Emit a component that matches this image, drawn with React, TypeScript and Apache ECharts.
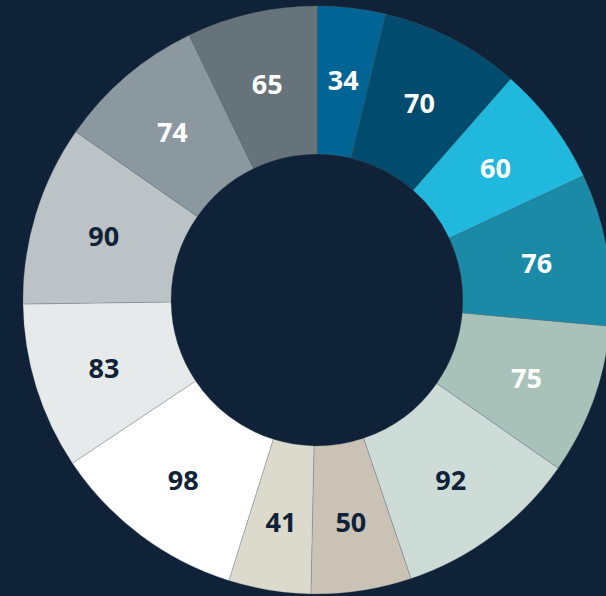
import React, { useEffect, useRef } from "react";
import * as echarts from "echarts";

const values = [34, 70, 60, 76, 75, 92, 50, 41, 98, 83, 90, 74, 65];
const colors = [
  "#006494", "#004b6e", "#21b8de", "#1a8aa6", "#a8c2b9", "#cddcd7", "#c9c2b5",
  "#dcd9cd", "#ffffff", "#e6eaeb", "#bcc3c6", "#8b98a0", "#67737b",
];
const labelColors = [
  "#ffffff", "#ffffff", "#ffffff", "#ffffff", "#ffffff", "#0f2237", "#0f2237",
  "#0f2237", "#0f2237", "#0f2237", "#0f2237", "#ffffff", "#ffffff",
];

export default function App() {
  const ref = useRef<HTMLDivElement>(null);
  useEffect(() => {
    document.body.style.margin = "0";
    const chart = echarts.init(ref.current!, undefined, { renderer: "svg" });
    chart.setOption({
      animation: false,
      backgroundColor: "#0f2237",
      series: [
        {
          type: "pie",
          center: [317, 300],
          radius: [146, 294],
          startAngle: 90,
          clockwise: true,
          avoidLabelOverlap: false,
          itemStyle: { borderColor: "rgba(100,112,124,0.45)", borderWidth: 0.6 },
          label: {
            show: true,
            position: "inside",
            formatter: "{c}",
            fontFamily: "Open Sans",
            fontWeight: "bold",
            fontSize: 27,
            offset: [0, 1],
          },
          labelLine: { show: false },
          emphasis: { disabled: true },
          data: values.map((v, i) => ({
            value: v,
            itemStyle: { color: colors[i] },
            label: { color: labelColors[i] },
          })),
        },
      ],
    });
    return () => chart.dispose();
  }, []);
  return <div ref={ref} style={{ width: 606, height: 596 }} />;
}
